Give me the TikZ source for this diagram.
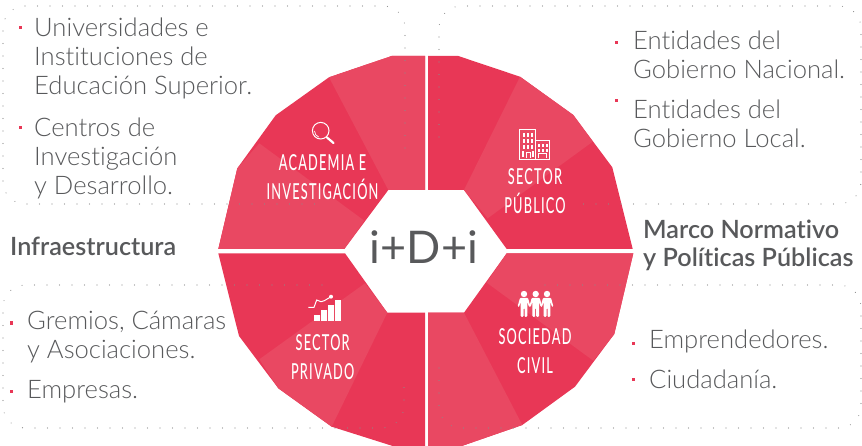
\documentclass[tikz,border=0pt]{standalone}
\usepackage{fontspec}
\setmainfont{Lato}[UprightFont={* Light},BoldFont={* Semibold},RawFeature={-liga}]
\newfontfamily\labfont[FakeStretch=0.58,LetterSpace=5.5]{Lato Medium}
\newfontfamily\regfont{Lato}
\definecolor{darkred}{HTML}{E83756}
\definecolor{lightred}{HTML}{E94862}
\definecolor{txt}{HTML}{58595B}
\definecolor{dotc}{HTML}{8A8A8A}
\tikzset{
 x=1pt,y=-1pt,
 dk/.style={fill=darkred,draw=none},
 lt/.style={fill=lightred,draw=none},
 dotline/.style={draw=dotc,line width=1.1pt,line cap=round,dash pattern=on 0pt off 12.5pt},
 body/.style={text=txt,font=\fontsize{25.6}{29}\selectfont,anchor=north west,inner sep=0pt,align=left},
 head/.style={text=txt,font=\fontsize{25.2}{28}\selectfont\bfseries,anchor=west,inner sep=0pt,align=left},
 lab/.style={text=white,font=\fontsize{22}{29}\selectfont\labfont,align=center,inner sep=0pt},
 bullet/.style={fill=darkred,draw=none,minimum size=3pt,inner sep=0pt},
 ico/.style={draw=white,line width=1pt,fill=none},
 icofill/.style={fill=white,draw=none}
}
\begin{document}
\begin{tikzpicture}
\useasboundingbox (0,0) rectangle (862,446);
\fill[dk] (425,56)--(391.7,56)--(329,77.3)--(275.7,115.3)--(237.3,168.3)--(218.3,249)--(344.3,249)--(388.3,190)--(425,190)--cycle;
\fill[lt] (329,77.3)--(391.7,56)--(425,56)--(425,190)--(388.3,190)--cycle;
\fill[lt] (259.3,143.3)--(364.3,220.7)--(344.3,249)--(218.3,249)--(237.3,168.3)--cycle;
\fill[dk] (428,56)--(458.3,56)--(520,76.7)--(573.3,115)--(612.3,167.3)--(632.7,249)--(506.7,249)--(464,190)--(428,190)--cycle;
\fill[lt] (520,76.7)--(573.3,115)--(592.7,141.7)--(487.7,218.3)--(464,190)--cycle;
\fill[dk] (218.3,253.3)--(345,253.3)--(387.3,312.7)--(425,312.7)--(425,446)--(392.7,446)--(331.7,426.7)--(278.3,388.3)--(239,336)--cycle;
\fill[lt] (365,283.3)--(387.3,312.7)--(331.7,426.7)--(278.3,388.3)--(259.3,359.3)--cycle;
\fill[dk] (506.7,253.3)--(633.3,253.3)--(614.3,334)--(575,386.7)--(522.3,425)--(461.7,446)--(428,446)--(428,312.7)--(464,312.7)--cycle;
\fill[lt] (506.7,253.3)--(633.3,253.3)--(614.3,334)--(593.3,360.7)--(486.7,282.7)--cycle;
\fill[lt] (428,312.7)--(464,312.7)--(522.3,425)--(461.7,446)--(428,446)--cycle;
% dotted frames
\draw[dotline] (405,148)--(405,28) arc[start angle=0,end angle=-90,radius=22] -- (25,6) arc[start angle=-90,end angle=-180,radius=22] -- (3,182) arc[start angle=180,end angle=90,radius=22] -- (318,204);
\draw[dotline] (439,137)--(439,28) arc[start angle=180,end angle=270,radius=22] -- (839,6) arc[start angle=270,end angle=360,radius=22] -- (861,182) arc[start angle=0,end angle=90,radius=22] -- (572,204);
\draw[dotline] (322,285)--(25,285) arc[start angle=-90,end angle=-180,radius=22] -- (3,406) arc[start angle=180,end angle=90,radius=22] -- (382,428) arc[start angle=90,end angle=0,radius=22] -- (404,387);
\draw[dotline] (545,285)--(839,285) arc[start angle=-90,end angle=0,radius=22] -- (861,406) arc[start angle=0,end angle=90,radius=22] -- (461,428) arc[start angle=90,end angle=180,radius=22] -- (439,363);
% texts
\node[body] (t1) at (34,18) {Universidades e\\Instituciones de\\Educación Superior.};
\node[body] (t2) at (34,118) {Centros de\\Investigación\\y Desarrollo.};
\node[body] (t3) at (633,31) {Entidades del\\Gobierno Nacional.};
\node[body] (t4) at (633,99.5) {Entidades del\\Gobierno Local.};
\node[body] (t5) at (27,311) {Gremios, Cámaras\\y Asociaciones.};
\node[body] (t6) at (27,380.5) {Empresas.};
\node[body] (t7) at (649,330) {Emprendedores.};
\node[body] (t8) at (649,370) {Ciudadanía.};
\node[head] (h1) at (10,246) {Infraestructura};
\node[head] (h2) at (643,245) {Marco Normativo\\y Políticas Públicas};
\node[text=txt,font=\fontsize{45}{45}\selectfont\regfont,inner sep=0pt] (c) at (424,247.5) {i+D+i};
\foreach \n/\x/\y in {b1/20/28,b2/20/128,b3/616/43,b4/616/101,b5/11/323,b6/11/391,b7/633/343,b8/633/379}
  \node[bullet] (\n) at (\x,\y) {};
% labels
\node[lab] (l1) at (322.5,177) {ACADEMIA E\\INVESTIGACIÓN};
\node[lab] (l2) at (535,191) {SECTOR\\PÚBLICO};
\node[lab] (l3) at (322.7,357.5) {SECTOR\\PRIVADO};
\node[lab] (l4) at (535,351.5) {SOCIEDAD\\CIVIL};
% magnifier icon
\draw[ico] (320.7,130.7) circle[radius=8.3];
\draw[ico,line width=.7pt] (314.5,131) arc[start angle=180,end angle=110,radius=6.5];
\draw[white,line width=2.2pt,line cap=round] (327,137.5)--(333.5,143);
% building icon
\draw[ico] (519.7,130) rectangle (535,159.3);
\draw[ico] (535,141) rectangle (549.3,159.3);
\foreach \wy in {133,139,145}
  \foreach \wx in {522.5,526.5,530.5}
    \fill[white] (\wx,\wy) rectangle ++(2.2,3.8);
\foreach \wx in {522,532} \fill[white] (\wx,151) rectangle ++(2,6);
\draw[white,line width=.8pt] (526,158.5)--(526,152.5)--(530,152.5)--(530,158.5);
\foreach \wy in {144,149}
  \foreach \wx in {537.5,541.5,545.5}
    \fill[white] (\wx,\wy) rectangle ++(2.2,3);
\draw[white,line width=.8pt] (538.5,158.5)--(538.5,153.5)--(546,153.5)--(546,158.5);
% chart icon
\foreach \xa/\ya in {314/315,321/310,328/305,335/300}
  \fill[icofill] (\xa,\ya) rectangle (\xa+6,320.7);
\draw[white,line width=1pt] (308.3,307.3)--(314,307.3)--(316.7,300)--(321,301.7)--(324.3,300.7)--(331,296.7);
\fill[white] (331,296.7) circle[radius=2];
% people icon
\foreach \px in {524,535.7,547}{
  \fill[white] (\px,294) circle[radius=3.2];
  \fill[white,rounded corners=1pt] (\px-4,297.8)--(\px+4,297.8)--(\px+6.4,306.5)--(\px+5,307)--(\px+3.3,301.5)--(\px+3.3,316.8)--(\px+.5,316.8)--(\px+.5,308)--(\px-.5,308)--(\px-.5,316.8)--(\px-3.3,316.8)--(\px-3.3,301.5)--(\px-5,307)--(\px-6.4,306.5)--cycle;
}
\end{tikzpicture}
\end{document}
